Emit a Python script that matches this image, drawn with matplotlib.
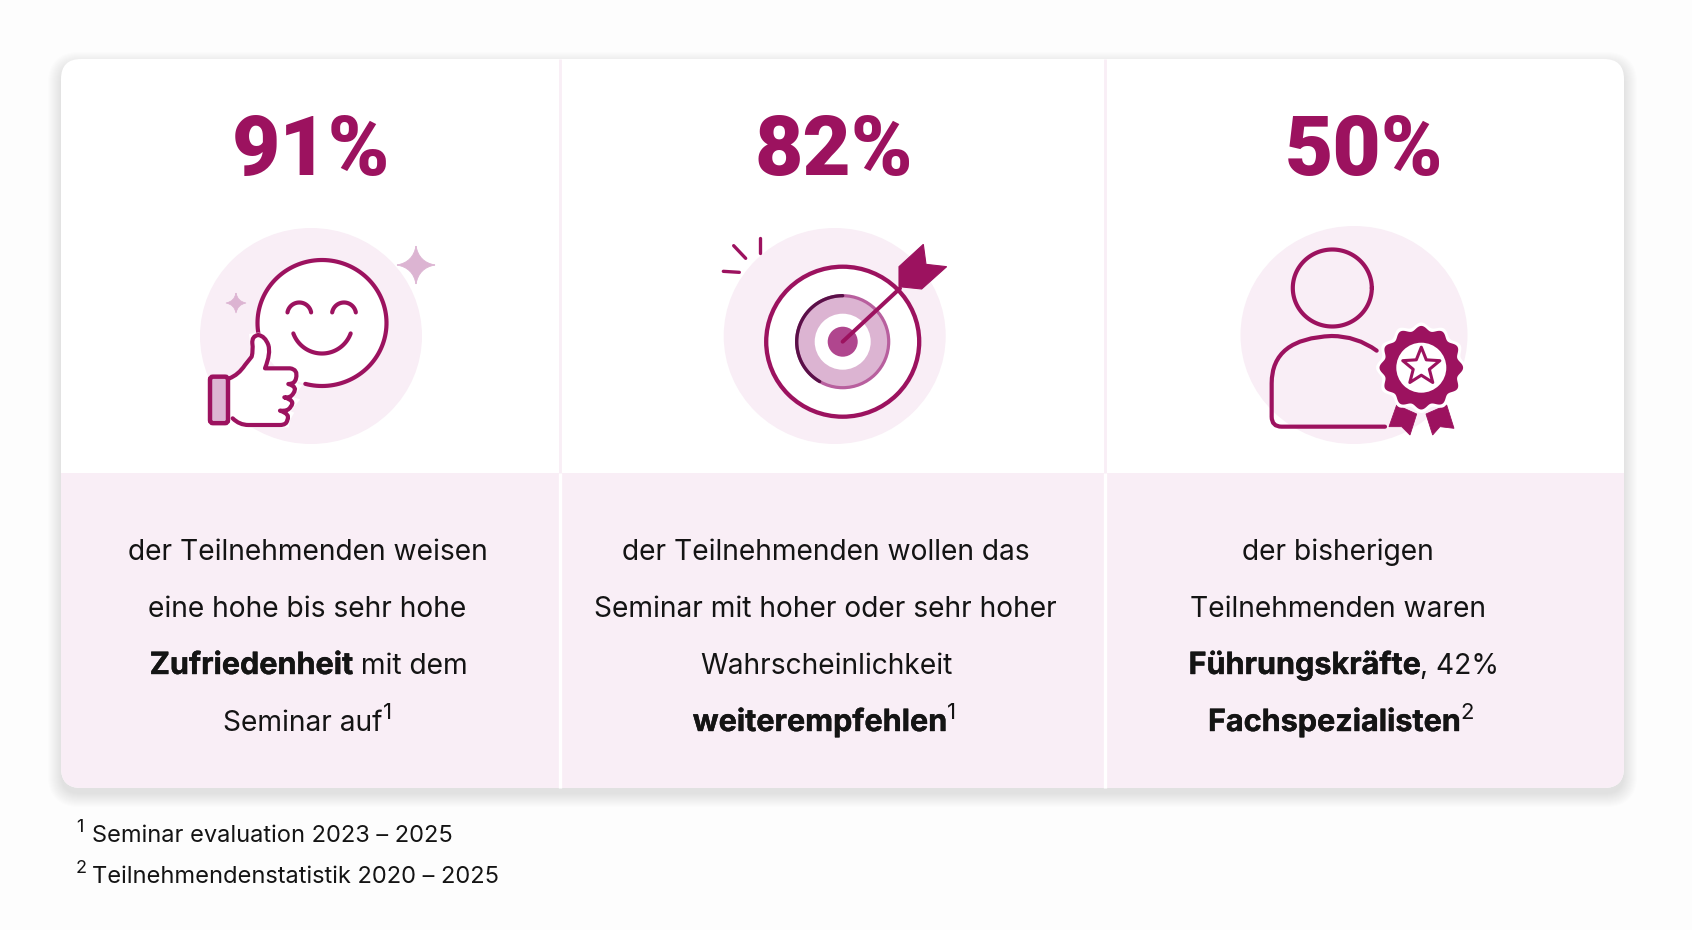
import numpy as np
import matplotlib
matplotlib.use("Agg")
import matplotlib.pyplot as plt
from matplotlib.patches import FancyBboxPatch, Rectangle, Circle, Ellipse, PathPatch, Polygon
from matplotlib.path import Path
import matplotlib.patheffects as pe

# ---- data ----
percent_values = [91, 82, 50]
column_centers_head = [311, 834, 1364]
column_centers_body = [307.5, 825.5, 1338]
col1_lines = [[("der Teilnehmenden weisen", "r")],
              [("eine hohe bis sehr hohe", "r")],
              [("Zufriedenheit", "b"), (" mit dem", "r")],
              [("Seminar auf", "r"), ("1", "s")]]
col2_lines = [[("der Teilnehmenden wollen das", "r")],
              [("Seminar mit hoher oder sehr hoher", "r")],
              [("Wahrscheinlichkeit", "r")],
              [("weiterempfehlen", "b"), ("1", "s")]]
col3_lines = [[("der bisherigen", "r")],
              [("Teilnehmenden waren", "r")],
              [("Führungskräfte", "b"), (", 42%", "r")],
              [("Fachspezialisten", "b"), ("2", "s")]]
line_shifts = [[0, 0, 1, 0], [0, 0, 1, -1], [0, 0, 6, 3]]
footnotes = [("1", "Seminar evaluation 2023 – 2025"),
             ("2", "Teilnehmendenstatistik 2020 – 2025")]

# ---- style ----
MAG = "#9c125f"
PALE = "#f9eef6"
LIGHT = "#dcb4d2"
INK = "#141414"
BG = "#fdfdfd"
FONT = ["Inter", "DejaVu Sans"]
HEAD_FONT = ["Roboto", "Inter", "DejaVu Sans"]
BODY_PT = 20.3

fig = plt.figure(figsize=(16.92, 9.30), dpi=100, facecolor=BG)
ax = fig.add_axes([0, 0, 1, 1])
ax.set_xlim(0, 1692)
ax.set_ylim(930, 0)
ax.axis("off")

X0, X1, Y0, Y1, YM = 61, 1624, 59, 788, 473
DIV = [560, 1105]

# shadow
for i in range(14):
    g = 14 - i
    ax.add_patch(FancyBboxPatch((X0 - g + 1, Y0 - g + 7), X1 - X0 + 2 * g - 2, Y1 - Y0 + 2 * g - 2,
                                boxstyle=f"round,pad=0,rounding_size={18 + g}",
                                fc="#707070", ec="none", alpha=0.011, zorder=1))
panel = FancyBboxPatch((X0, Y0), X1 - X0, Y1 - Y0, boxstyle="round,pad=0,rounding_size=20",
                       fc="white", ec="none", zorder=2)
ax.add_patch(panel)
band = Rectangle((X0, YM), X1 - X0, Y1 - YM, fc=PALE, ec="none", zorder=3)
ax.add_patch(band)
band.set_clip_path(panel)
for x in DIV:
    ax.plot([x, x], [Y0, YM], color=PALE, lw=2.0, zorder=4, solid_capstyle="butt")
    ax.plot([x, x], [YM, Y1], color="white", lw=2.4, zorder=4, solid_capstyle="butt")

# ---- icons: sketches given in crop coordinates ----
def mapper(ox, oy):
    return lambda p: (ox + p[0] / 3, oy + p[1] / 3)

def stroke_path(verts, codes, z=6, lw=3.0, ec=MAG, fc="none"):
    pth = PathPatch(Path(verts, codes), fc=fc, ec=ec, lw=lw, zorder=z, capstyle="round", joinstyle="round")
    ax.add_patch(pth)

def arc_line(cx, cy, r, a0, a1, lw=3.0, color=MAG, z=6, ry=None):
    t = np.radians(np.linspace(a0, a1, 120))
    ax.plot(cx + r * np.cos(t), cy + (ry or r) * np.sin(t), color=color, lw=lw, zorder=z,
            solid_capstyle="round")

def sparkle(cx, cy, r, color=LIGHT):
    pts = [(0, -r), (r, 0), (0, r), (-r, 0)]
    v = [(cx + pts[0][0], cy + pts[0][1])]
    c = [Path.MOVETO]
    for i in range(1, 5):
        q = pts[i % 4]
        v += [(cx + (pts[i - 1][0] + q[0]) * 0.15, cy + (pts[i - 1][1] + q[1]) * 0.15), (cx + q[0], cy + q[1])]
        c += [Path.CURVE3, Path.CURVE3]
    ax.add_patch(PathPatch(Path(v, c), fc=color, ec=color, lw=0.6, zorder=6))

# icon 1
m = mapper(170, 210)
ax.add_patch(Ellipse((311, 336), 222, 216, fc=PALE, ec="none", zorder=5))
ax.add_patch(Ellipse((322, 323), 129, 126, fc="white", ec="none", zorder=5.5))
arc_line(322, 323, 64.5, 165, 465, lw=3.0, ry=63)
arc_line(299.3, 314.5, 12, 190, 350)
arc_line(344, 314.5, 12, 190, 350)
arc_line(322, 323, 30.5, 20, 160)
sparkle(416, 265, 19)
sparkle(236, 303, 10)
M, L, C = Path.MOVETO, Path.LINETO, Path.CURVE3
thumb = [((178, 505), M), ((205, 495), C), ((225, 465), C), ((245, 440), L), ((250, 420), C), ((247, 400), C),
         ((245, 378), C), ((265, 375), C), ((285, 378), C), ((295, 405), C), ((303, 430), C), ((285, 475), C),
         ((360, 475), L), ((385, 478), C), ((378, 505), C), ((375, 522), C), ((355, 522), C),
         ((385, 530), C), ((370, 550), C), ((362, 565), C), ((343, 562), C),
         ((378, 572), C), ((362, 590), C), ((355, 605), C), ((330, 602), C),
         ((362, 612), C), ((352, 630), C), ((350, 645), C), ((330, 645), C),
         ((235, 645), L), ((208, 645), C), ((188, 625), C)]
fillv = [m(p) for p, _ in thumb] + [m((178, 625)), m((178, 505))]
ax.add_patch(Polygon(fillv, closed=True, fc="white", ec="white", lw=3.5, zorder=6.5))
stroke_path([m(p) for p, _ in thumb], [c for _, c in thumb], z=7, lw=3.0)
x0, y0 = m((120, 500))
ax.add_patch(FancyBboxPatch((x0, y0), 18, 46.5, boxstyle="round,pad=0,rounding_size=3",
                            fc=LIGHT, ec=MAG, lw=3.2, zorder=7))

# icon 2
m = mapper(700, 210)
tx, ty = 842.7, 341.7
ax.add_patch(Ellipse((834.7, 336), 222, 216, fc=PALE, ec="none", zorder=5))
ax.add_patch(Ellipse((tx, ty), 153, 150, fc="white", ec=MAG, lw=3.1, zorder=6))
ax.add_patch(Circle((tx, ty), 46, fc=LIGHT, ec="#b85f9e", lw=2.3, zorder=6.2))
arc_line(tx, ty, 46, 120, 270, lw=2.4, color="#5a1048", z=6.3)
ax.add_patch(Circle((tx, ty), 28, fc="white", ec="none", zorder=6.4))
ax.add_patch(Circle((tx, ty), 15, fc="#b0468e", ec="none", zorder=6.5))
a, b = m((428, 395)), m((600, 235))
ax.plot([a[0], b[0]], [a[1], b[1]], color=MAG, lw=2.9, zorder=7, solid_capstyle="round")
ax.add_patch(Polygon([m(p) for p in [(597, 170), (670, 103), (678, 163), (740, 170), (665, 237), (597, 230)]],
                     closed=True, fc=MAG, ec=MAG, lw=0.8, zorder=7))
for p, q in [((181, 85), (181, 130)), ((101, 107), (137, 145)), ((70, 184), (118, 187))]:
    a, b = m(p), m(q)
    ax.plot([a[0], b[0]], [a[1], b[1]], color=MAG, lw=2.4, zorder=7, solid_capstyle="round")

# icon 3
m = mapper(1220, 210)
ax.add_patch(Ellipse((1354, 335), 227, 218, fc=PALE, ec="none", zorder=5))
arc_line(1332.3, 288, 39.5, 0, 360, lw=3.0, ry=38.5)
body = [((470, 422), M), ((410, 378), C), ((335, 378), C), ((155, 385), C), ((155, 520), C), ((155, 620), L),
        ((155, 650), C), ((185, 650), C), ((495, 650), L)]
stroke_path([m(p) for p, _ in body], [c for _, c in body], lw=3.0)
rx, ry = 1421.3, 367.7
t = np.radians(np.linspace(0, 360, 361))
rad = 39.5 + 2.3 * np.cos(12 * t)
for poly in ([(530, 585), (590, 612), (570, 675), (545, 650), (507, 650)],
             [(618, 612), (680, 585), (702, 655), (660, 650), (638, 675)]):
    ax.add_patch(Polygon([m(p) for p in poly], closed=True, fc=MAG, ec=MAG, lw=0.6, zorder=7.2))
ax.fill(rx + (rad + 3.5) * np.cos(t), ry + (rad + 3.5) * np.sin(t), fc="white", ec="none", zorder=7.4)
ax.fill(rx + rad * np.cos(t), ry + rad * np.sin(t), fc=MAG, ec="none", zorder=7.5)
ax.add_patch(Circle((rx, ry), 25, fc="white", ec="none", zorder=7.6))
ang = np.radians(-90 + 36 * np.arange(10))
rr = np.where(np.arange(10) % 2 == 0, 19.5, 8.5)
ax.add_patch(Polygon(np.c_[rx + rr * np.cos(ang), ry - 1 + rr * np.sin(ang)], closed=True,
                     fc="white", ec=MAG, lw=2.2, zorder=7.8, joinstyle="round"))

# ---- texts ----
for v, x in zip(percent_values, column_centers_head):
    ax.text(x, 175, f"{v}%", ha="center", va="baseline", color=MAG, fontsize=60,
            fontweight=900, family=HEAD_FONT, zorder=8)

rend = fig.canvas.get_renderer()
STY = {"r": dict(fontsize=BODY_PT, fontweight="normal"),
       "b": dict(fontsize=22.0, fontweight="bold"),
       "s": dict(fontsize=16.0, fontweight="normal")}
BOLD_FX = [pe.withStroke(linewidth=0.3, foreground=INK)]

def wid(s, kind):
    a = ax.text(0, 0, "|" + s + "|", family=FONT, **STY[kind])
    b = ax.text(0, 0, "||", family=FONT, **STY[kind])
    w = a.get_window_extent(rend).width - b.get_window_extent(rend).width
    a.remove(); b.remove()
    return w

BASE = [560, 616.5, 674, 731]
for cx, lines, shifts in zip(column_centers_body, [col1_lines, col2_lines, col3_lines], line_shifts):
    for y, parts, dx in zip(BASE, lines, shifts):
        ws = [wid(s, k) for s, k in parts]
        x = cx + dx - sum(ws) / 2
        for (s, k), w in zip(parts, ws):
            tt = ax.text(x, y - (12 if k == "s" else 0), s, ha="left", va="baseline", color=INK,
                         family=FONT, zorder=8, **STY[k])
            if k == "b":
                tt.set_path_effects(BOLD_FX)
            x += w

for (sup, txt), y in zip(footnotes, [842, 883]):
    ax.text(76, y - 10, sup, ha="left", va="baseline", color=INK, family=FONT, fontsize=13, zorder=8)
    ax.text(92, y, txt, ha="left", va="baseline", color=INK, family=FONT, fontsize=17, zorder=8)

fig.savefig("out.png", dpi=100, facecolor=BG)
